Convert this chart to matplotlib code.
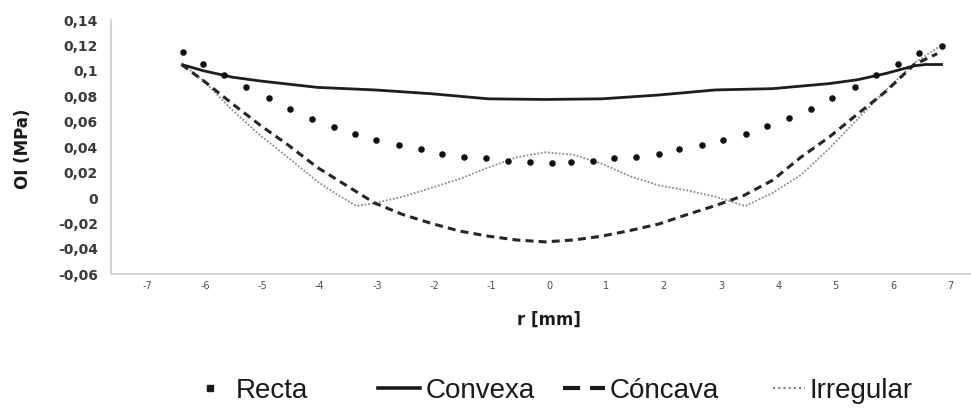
import matplotlib
matplotlib.use("Agg")
import matplotlib.pyplot as plt
from matplotlib.lines import Line2D

# ---------------- data ----------------
recta_x = [-6.38, -6.04, -5.67, -5.29, -4.89, -4.52, -4.14, -3.75, -3.39, -3.01, -2.62, -2.23,
           -1.86, -1.48, -1.10, -0.71, -0.33, 0.05, 0.38, 0.76, 1.14, 1.52, 1.91, 2.27, 2.66,
           3.04, 3.43, 3.80, 4.18, 4.57, 4.94, 5.33, 5.71, 6.09, 6.46, 6.85]
recta_y = [0.115, 0.1056, 0.0965, 0.0873, 0.0787, 0.070, 0.0625, 0.0562, 0.0502, 0.0455, 0.0416,
           0.0382, 0.0348, 0.0322, 0.0311, 0.029, 0.0285, 0.0277, 0.0285, 0.0293, 0.0311, 0.0324,
           0.0348, 0.0382, 0.0416, 0.0455, 0.0502, 0.0565, 0.0627, 0.070, 0.0787, 0.0873, 0.0965,
           0.1053, 0.114, 0.1198]

convexa_x = [-6.41, -6.02, -5.52, -5.03, -4.04, -3.04, -2.05, -1.06, -0.07, 0.92, 1.91, 2.90,
             3.90, 4.89, 5.38, 5.88, 6.37, 6.57, 6.87]
convexa_y = [0.105, 0.100, 0.095, 0.092, 0.087, 0.085, 0.082, 0.078, 0.0775, 0.078, 0.081, 0.085,
             0.086, 0.090, 0.093, 0.098, 0.104, 0.105, 0.105]

concava_x = [-6.41, -6.02, -5.52, -5.03, -4.53, -4.04, -3.54, -3.04, -2.55, -2.05, -1.56, -1.06,
             -0.57, -0.07, 0.43, 0.92, 1.42, 1.91, 2.41, 2.90, 3.40, 3.90, 4.39, 4.89, 5.38, 5.88,
             6.37, 6.77]
concava_y = [0.105, 0.092, 0.074, 0.057, 0.041, 0.024, 0.010, -0.004, -0.013, -0.020, -0.026,
             -0.030, -0.033, -0.0345, -0.033, -0.030, -0.0255, -0.0205, -0.013, -0.006, 0.002,
             0.014, 0.032, 0.048, 0.066, 0.084, 0.105, 0.1135]

irregular_x = [-6.41, -6.02, -5.52, -5.03, -4.53, -4.04, -3.74, -3.36, -3.04, -2.55, -2.05, -1.56,
               -1.06, -0.57, -0.07, 0.43, 0.92, 1.42, 1.91, 2.41, 2.90, 3.42, 3.90, 4.39, 4.89,
               5.38, 5.88, 6.37, 6.87]
irregular_y = [0.106, 0.092, 0.069, 0.049, 0.031, 0.013, 0.004, -0.0063, -0.004, 0.001, 0.008,
               0.015, 0.024, 0.032, 0.036, 0.034, 0.027, 0.017, 0.010, 0.006, 0.001, -0.0063,
               0.004, 0.018, 0.039, 0.062, 0.085, 0.106, 0.121]

series_names = ["Recta", "Convexa", "Cóncava", "Irregular"]

x_ticks = [-7, -6, -5, -4, -3, -2, -1, 0, 1, 2, 3, 4, 5, 6, 7]
x_tick_labels = ["-7", "-6", "-5", "-4", "-3", "-2", "-1", "0", "1", "2", "3", "4", "5", "6", "7"]
y_ticks = [-0.06, -0.04, -0.02, 0, 0.02, 0.04, 0.06, 0.08, 0.1, 0.12, 0.14]
y_tick_labels = ["-0,06", "-0,04", "-0,02", "0", "0,02", "0,04", "0,06", "0,08", "0,1", "0,12", "0,14"]

x_label = "r [mm]"
y_label = "OI (MPa)"

# ---------------- figure ----------------
W, H = 971, 408
fig = plt.figure(figsize=(W / 100, H / 100), dpi=100)
ax = fig.add_axes([111 / W, 1 - 274.3 / H, 1 - 111 / W, (274.3 - 20) / H])

ax.plot(irregular_x, irregular_y, color="#8a8a8a", lw=1.3, ls=(0, (1, 1)))
ax.plot(concava_x, concava_y, color="#262626", lw=2.2, ls=(0, (2.6, 1.7)))
ax.plot(convexa_x, convexa_y, color="#1e1e1e", lw=2.0, solid_capstyle="butt")
ax.plot(recta_x, recta_y, ls="none", marker="o", ms=3.7, color="#111111")

ax.set_xlim(-7.64, 7.36)
ax.set_ylim(-0.06, 0.14)

ax.set_xticks(x_ticks)
ax.set_xticklabels(x_tick_labels, fontsize=7, color="#4a4a4a")
ax.set_yticks(y_ticks)
ax.set_yticklabels(y_tick_labels, fontsize=10, fontweight="bold", color="#3a3a3a",
                   family="DejaVu Sans")
ax.tick_params(axis="x", length=0, pad=5)
ax.tick_params(axis="y", length=0, pad=9.5)

for s in ["top", "right"]:
    ax.spines[s].set_visible(False)
for s in ["left", "bottom"]:
    ax.spines[s].set_color("#d4d4d4")
    ax.spines[s].set_linewidth(1.5)

fig.text(23 / W, 1 - 148.5 / H, y_label, rotation=90, ha="center", va="center",
         fontsize=12, fontweight="bold", color="#1a1a1a", family="DejaVu Sans")
fig.text(549 / W, 1 - 320 / H, x_label, ha="center", va="center",
         fontsize=12, fontweight="bold", color="#1a1a1a", family="DejaVu Sans")

# ---------------- legend ----------------
h_recta = Line2D([], [], ls="none", marker="s", ms=4.5, color="#1a1a1a")
h_convexa = Line2D([], [], color="#1a1a1a", lw=2.6)
h_concava = Line2D([], [], color="#1a1a1a", lw=3.0, ls=(0, (4.1, 2.4)))
h_irregular = Line2D([], [], color="#7a7a7a", lw=1.5, ls=(0, (1, 1.5)))

leg_font = {"family": "Liberation Sans", "size": 20}
entries = [
    (h_recta, series_names[0], 189, 1.5, 0.2),
    (h_convexa, series_names[1], 378, 1.5, 0.2),
    (h_concava, series_names[2], 563, 1.5, 0.18),
    (h_irregular, series_names[3], 773, 1.15, 0.18),
]
for h, lab, x0, hl, tp in entries:
    lg = fig.legend(handles=[h], labels=[lab], loc="center left",
                    bbox_to_anchor=(x0 / W, 1 - 391 / H), frameon=False, borderpad=0,
                    borderaxespad=0, handlelength=hl, handletextpad=tp, prop=leg_font)
    for t in lg.get_texts():
        t.set_color("#1a1a1a")

fig.savefig("out.png", dpi=100)
